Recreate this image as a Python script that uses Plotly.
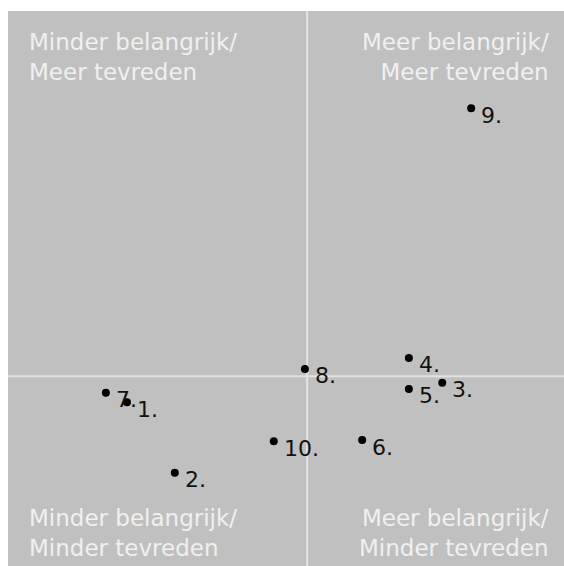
import plotly.graph_objects as go

labels = ["1.", "2.", "3.", "4.", "5.", "6.", "7.", "8.", "9.", "10."]
belang = [21.4, 30.0, 78.1, 72.1, 72.1, 63.7, 17.6, 53.4, 83.3, 47.8]
tevreden = [29.5, 16.8, 33.0, 37.5, 31.9, 22.7, 31.2, 35.5, 82.5, 22.5]
mid_x = 53.8
mid_y = 34.2
quad_text = ["Minder belangrijk/<br>Meer tevreden", "Meer belangrijk/<br>Meer tevreden",
             "Minder belangrijk/<br>Minder tevreden", "Meer belangrijk/<br>Minder tevreden"]

fig = go.Figure()
fig.add_trace(go.Scatter(x=belang, y=tevreden, mode="markers",
                         marker=dict(color="black", size=8), hoverinfo="skip"))

font_main = "Verdana, DejaVu Sans, sans-serif"
for x, y, t in zip(belang, tevreden, labels):
    fig.add_annotation(x=x, y=y, text=t, showarrow=False, xanchor="left", yanchor="middle",
                       xshift=8, yshift=-7, font=dict(family=font_main, size=22, color="#111111"))

qpos = [(0.035, 0.971, "left", "top"), (0.977, 0.971, "right", "top"),
        (0.035, 0.006, "left", "bottom"), (0.977, 0.006, "right", "bottom")]
for (px, py, xa, ya), t in zip(qpos, quad_text):
    fig.add_annotation(x=px, y=py, xref="paper", yref="paper", text=t, showarrow=False,
                       xanchor=xa, yanchor=ya, align=xa,
                       font=dict(family=font_main, size=23, color="#f0f0f0"))

fig.add_shape(type="line", x0=mid_x, x1=mid_x, y0=0, y1=1, xref="x", yref="paper",
              line=dict(color="#e2e2e2", width=2), layer="below")
fig.add_shape(type="line", x0=0, x1=1, y0=mid_y, y1=mid_y, xref="paper", yref="y",
              line=dict(color="#e2e2e2", width=2), layer="below")

fig.update_layout(width=564, height=566, margin=dict(l=8, t=11, r=0, b=0),
                  paper_bgcolor="white", plot_bgcolor="#c0c0c0", showlegend=False,
                  xaxis=dict(range=[0, 100], visible=False, showgrid=False, zeroline=False),
                  yaxis=dict(range=[0, 100], visible=False, showgrid=False, zeroline=False))
fig.write_html("out.html", config={"displayModeBar": False},
               post_script="document.body.style.margin='0';document.body.style.overflow='hidden';")
